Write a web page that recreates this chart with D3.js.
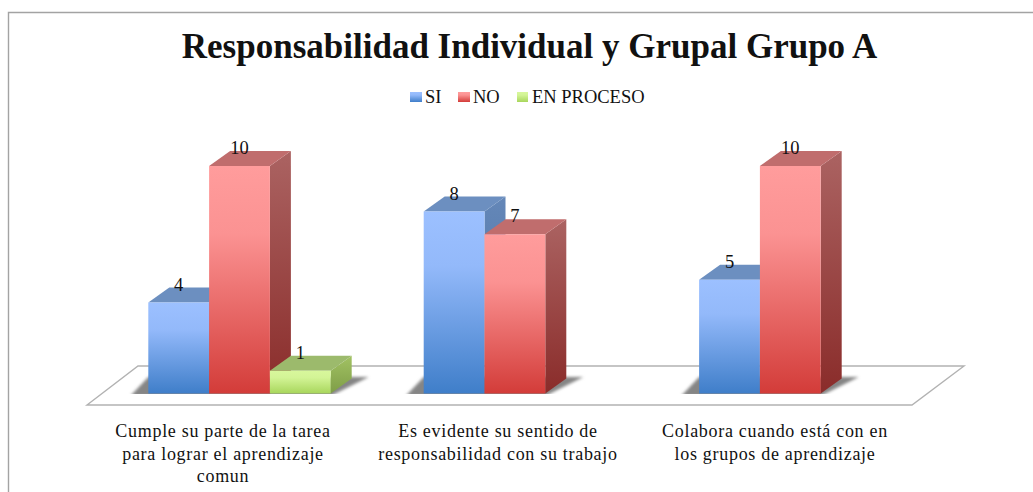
<!DOCTYPE html>
<html><head><meta charset="utf-8">
<script src="https://cdn.jsdelivr.net/npm/d3@7"></script>
<style>html,body{margin:0;background:#fff}svg{display:block}text{font-family:"Liberation Serif",serif;fill:#111}</style>
</head><body><svg id="c" width="1033" height="492"></svg>
<script>
const categories=["Cumple su parte de la tarea|para lograr el aprendizaje|comun","Es evidente su sentido de|responsabilidad con su trabajo","Colabora cuando está con en|los grupos de aprendizaje"];
const seriesNames=["SI","NO","EN PROCESO"];
const siValues=[4,8,5];
const noValues=[10,7,10];
const enProcesoValues=[1,null,null];
const titleText="Responsabilidad Individual y Grupal Grupo A";
const palette=[
 {top:"#9cc0ff",bottom:"#3f7ec9",cap:"#6c8fc0",sideTop:"#6487b8",sideBottom:"#4a6f9f"},
 {top:"#ff9c9c",bottom:"#d33c39",cap:"#c06d6d",sideTop:"#ab6362",sideBottom:"#8a2c2a"},
 {top:"#d8f79c",bottom:"#a8d65c",cap:"#9cba6c",sideTop:"#a2c263",sideBottom:"#7e9d47"}];
const svg=d3.select("#c");
const defs=svg.append("defs");
palette.forEach((p,i)=>{
 const f=defs.append("linearGradient").attr("id","f"+i).attr("x1",0).attr("x2",0).attr("y1",0).attr("y2",1);
 f.append("stop").attr("offset","0").attr("stop-color",p.top);
 f.append("stop").attr("offset","0.3").attr("stop-color",d3.interpolateRgb(p.top,p.bottom)(0.1));
 f.append("stop").attr("offset","1").attr("stop-color",p.bottom);
 const s=defs.append("linearGradient").attr("id","s"+i).attr("x1",0).attr("x2",0).attr("y1",0).attr("y2",1);
 s.append("stop").attr("offset","0").attr("stop-color",p.sideTop);
 s.append("stop").attr("offset","1").attr("stop-color",p.sideBottom);
});
defs.append("filter").attr("id","blur").attr("x","-20%").attr("width","140%").attr("y","-30%").attr("height","160%").append("feGaussianBlur").attr("stdDeviation",1.8);

svg.append("path").attr("d","M8.5,492V12.5H1033").attr("fill","none").attr("stroke","#a3a3a3").attr("stroke-width",1.4);

svg.append("text").attr("x",529.5).attr("y",58).attr("text-anchor","middle").attr("font-size",35).attr("font-weight","bold").text(titleText);

// legend
const legendX=[410,458,517], legendT=[425,473,532];
seriesNames.forEach((n,i)=>{
 svg.append("rect").attr("x",legendX[i]).attr("y",92).attr("width",i==2?11:12).attr("height",10).attr("fill",`url(#f${i})`);
 svg.append("text").attr("x",legendT[i]).attr("y",103).attr("font-size",18.5).text(n);
});

// plot scales
const depthX=21, depthY=15;
const y=d3.scaleLinear().domain([0,10]).range([393.5,166]);
const x0=d3.scaleBand().domain(d3.range(categories.length)).range([101.8,928]).paddingInner(0).paddingOuter(0);
const barW=60.8;
const x1=d3.scaleBand().domain(d3.range(seriesNames.length)).range([46.5,46.5+3*barW]);
const seriesVals=[siValues,noValues,enProcesoValues];

// floor
const floorFrontY=405, floorBackY=366;
svg.append("path").attr("d",`M87,${floorFrontY}L138,${floorBackY}H964L912,${floorFrontY}Z`).attr("fill","#fff").attr("stroke","#b2b2b2").attr("stroke-width",1.4);

// shadows
categories.forEach((c,g)=>{
 const n=seriesVals.filter(s=>s[g]!=null).length;
 const a=x0(g)+x1(0), b=a+n*barW;
 svg.append("polygon").attr("points",[[a-18,396],[b,396],[b+depthX+17,377],[a,377]].join(" "))
  .attr("fill","#858585").attr("filter","url(#blur)");
 svg.append("rect").attr("x",a-30).attr("y",394).attr("width",b-a+90).attr("height",8).attr("fill","#fff");
});

// bars
const labels=[];
categories.forEach((c,g)=>{
 seriesVals.forEach((vals,i)=>{
  const v=vals[g]; if(v==null) return;
  const l=x0(g)+x1(i), r=l+barW, t=y(v), b=y(0);
  svg.append("polygon").attr("points",[[r,t],[r+depthX,t-depthY],[r+depthX,b-depthY],[r,b]].join(" ")).attr("fill",`url(#s${i})`);
  svg.append("polygon").attr("points",[[l,t],[l+depthX,t-depthY],[r+depthX,t-depthY],[r,t]].join(" ")).attr("fill",palette[i].cap);
  svg.append("rect").attr("x",l).attr("y",t).attr("width",barW).attr("height",b-t).attr("fill",`url(#f${i})`);
  labels.push({x:l+barW/2,y:t-12,v});
 });
});
svg.selectAll("text.val").data(labels).join("text").attr("class","val").attr("x",d=>d.x).attr("y",d=>d.y).attr("text-anchor","middle").attr("font-size",18.5).text(d=>d.v);

// category labels
const labelCenter=[223,498,775];
categories.forEach((c,g)=>{
 c.split("|").forEach((line,k)=>{
  svg.append("text").attr("x",labelCenter[g]).attr("y",437+k*22.5).attr("text-anchor","middle").attr("font-size",18).attr("letter-spacing",0.7).text(line);
 });
});
</script></body></html>
